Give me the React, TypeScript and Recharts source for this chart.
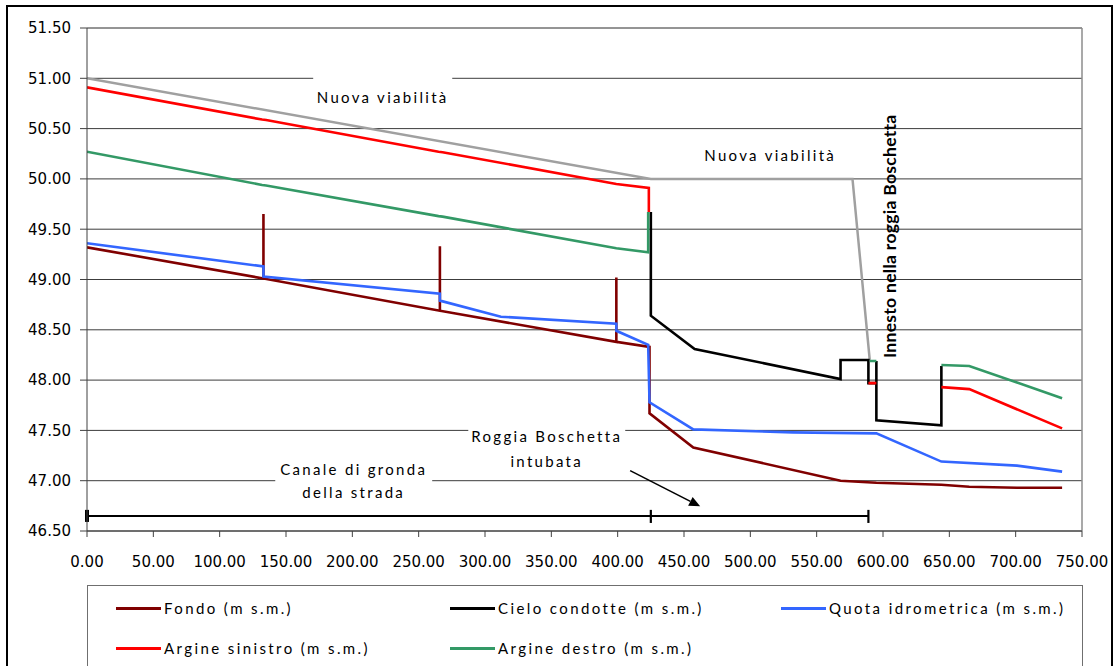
import React from "react";
import {
  LineChart,
  Line,
  XAxis,
  YAxis,
  CartesianGrid,
  ReferenceArea,
  ReferenceLine,
} from "recharts";

type Pt = { x: number; y: number | null };

// Axis ticks
const xTicks = [0, 50, 100, 150, 200, 250, 300, 350, 400, 450, 500, 550, 600, 650, 700, 750];
const yTicks = [46.5, 47, 47.5, 48, 48.5, 49, 49.5, 50, 50.5, 51, 51.5];

// Profile along the channel: progressive distance (m) vs elevation (m s.m.)
const fondo: Pt[] = [
  { x: 0, y: 49.32 },
  { x: 133, y: 49.01 },
  { x: 133, y: 49.65 },
  { x: 133, y: 49.01 },
  { x: 266, y: 48.69 },
  { x: 266, y: 49.33 },
  { x: 266, y: 48.69 },
  { x: 399, y: 48.38 },
  { x: 399, y: 49.02 },
  { x: 399, y: 48.38 },
  { x: 424, y: 48.33 },
  { x: 424, y: 47.67 },
  { x: 457, y: 47.33 },
  { x: 568, y: 47.0 },
  { x: 595, y: 46.98 },
  { x: 644, y: 46.96 },
  { x: 665, y: 46.94 },
  { x: 701, y: 46.93 },
  { x: 735, y: 46.93 },
];

const cieloCondotte: Pt[] = [
  { x: 425, y: 49.67 },
  { x: 425, y: 48.64 },
  { x: 458, y: 48.31 },
  { x: 568, y: 48.01 },
  { x: 568, y: 48.2 },
  { x: 589, y: 48.2 },
  { x: 589, y: 47.97 },
  { x: 595, y: 47.97 },
  { x: 595, y: 48.19 },
  { x: 595, y: 47.6 },
  { x: 644, y: 47.55 },
  { x: 644, y: 48.14 },
];

const quotaIdrometrica: Pt[] = [
  { x: 0, y: 49.36 },
  { x: 133, y: 49.13 },
  { x: 133, y: 49.03 },
  { x: 266, y: 48.86 },
  { x: 266, y: 48.79 },
  { x: 312, y: 48.63 },
  { x: 399, y: 48.56 },
  { x: 399, y: 48.49 },
  { x: 423, y: 48.35 },
  { x: 424, y: 47.78 },
  { x: 457, y: 47.51 },
  { x: 532, y: 47.48 },
  { x: 595, y: 47.47 },
  { x: 644, y: 47.19 },
  { x: 701, y: 47.15 },
  { x: 735, y: 47.09 },
];

const argineSinistro: Pt[] = [
  { x: 0, y: 50.91 },
  { x: 132, y: 50.59 },
  { x: 135, y: 50.585 },
  { x: 265, y: 50.27 },
  { x: 268, y: 50.265 },
  { x: 399, y: 49.95 },
  { x: 423.5, y: 49.91 },
  { x: 423.5, y: 49.67 },
  { x: 500, y: null },
  { x: 589, y: 47.97 },
  { x: 595, y: 47.97 },
  { x: 620, y: null },
  { x: 644, y: 47.93 },
  { x: 665, y: 47.91 },
  { x: 735, y: 47.52 },
];

const argineDestro: Pt[] = [
  { x: 0, y: 50.27 },
  { x: 132, y: 49.94 },
  { x: 135, y: 49.935 },
  { x: 265, y: 49.63 },
  { x: 268, y: 49.625 },
  { x: 399, y: 49.31 },
  { x: 423, y: 49.27 },
  { x: 423, y: 49.67 },
  { x: 500, y: null },
  { x: 590, y: 48.19 },
  { x: 595, y: 48.19 },
  { x: 620, y: null },
  { x: 644, y: 48.15 },
  { x: 665, y: 48.14 },
  { x: 735, y: 47.82 },
];

// New road level
const nuovaViabilita: Pt[] = [
  { x: 0, y: 51.0 },
  { x: 425, y: 50.0 },
  { x: 577, y: 50.0 },
  { x: 590, y: 48.2 },
];

const SERIES = [
  { name: "Fondo (m s.m.)", data: fondo, color: "#800000" },
  { name: "Cielo condotte (m s.m.)", data: cieloCondotte, color: "#000000" },
  { name: "Quota idrometrica (m s.m.)", data: quotaIdrometrica, color: "#3366FF" },
  { name: "Argine sinistro (m s.m.)", data: argineSinistro, color: "#FF0000" },
  { name: "Argine destro (m s.m.)", data: argineDestro, color: "#339966" },
];

const TEXT_FONT = "Lato, 'Open Sans', sans-serif";
const TICK_FONT = "'DejaVu Sans', Verdana, sans-serif";

type AnnProps = {
  viewBox?: { x: number; y: number; width: number; height: number };
  lines: string[];
  dy?: number;
  gap?: number;
};

function AnnotationText({ viewBox, lines, dy = 0, gap = 24 }: AnnProps) {
  if (!viewBox) return null;
  const cx = viewBox.x + viewBox.width / 2;
  const cy = viewBox.y + viewBox.height / 2 + dy;
  const n = lines.length;
  return (
    <text
      x={cx}
      textAnchor="middle"
      fontFamily={TEXT_FONT}
      fontSize={15}
      letterSpacing={2.3}
      fill="#000"
    >
      {lines.map((l, i) => (
        <tspan key={i} x={cx} y={cy + (i - (n - 1) / 2) * gap} dy="0.35em">
          {l}
        </tspan>
      ))}
    </text>
  );
}

function RotatedText({ viewBox, text }: { viewBox?: any; text: string }) {
  if (!viewBox) return null;
  const cx = viewBox.x + viewBox.width / 2;
  const cy = viewBox.y + viewBox.height / 2;
  return (
    <text
      x={cx}
      y={cy}
      dy="0.35em"
      textAnchor="middle"
      transform={`rotate(-90 ${cx} ${cy})`}
      fontFamily={TEXT_FONT}
      fontWeight={700}
      fontSize={17.5}
      letterSpacing={0.3}
      fill="#000"
    >
      {text}
    </text>
  );
}

function ArrowShape(p: any) {
  const { x1, y1, x2, y2 } = p;
  const ang = Math.atan2(y2 - y1, x2 - x1);
  const L = 11;
  const W = 5;
  const bx = x2 - L * Math.cos(ang);
  const by = y2 - L * Math.sin(ang);
  const px = -Math.sin(ang) * W;
  const py = Math.cos(ang) * W;
  return (
    <g>
      <line x1={x1} y1={y1} x2={bx} y2={by} stroke="#000" strokeWidth={1.6} />
      <polygon
        points={`${x2},${y2} ${bx + px},${by + py} ${bx - px},${by - py}`}
        fill="#000"
      />
    </g>
  );
}

function LegendBox() {
  const cols = [28, 362, 693];
  const rows = [22, 62];
  return (
    <div
      style={{
        position: "absolute",
        left: 87,
        top: 585,
        width: 996,
        height: 120,
        boxSizing: "border-box",
        border: "1.5px solid #6f6f6f",
        background: "#fff",
      }}
    >
      {SERIES.map((s, i) => (
        <div
          key={s.name}
          style={{
            position: "absolute",
            left: cols[i % 3],
            top: rows[Math.floor(i / 3)] - 11,
            height: 22,
            display: "flex",
            alignItems: "center",
            whiteSpace: "nowrap",
          }}
        >
          <span
            style={{ display: "inline-block", width: 45, height: 3, background: s.color }}
          />
          <span
            style={{
              marginLeft: 3,
              fontFamily: TEXT_FONT,
              fontSize: 15,
              letterSpacing: 2.4,
              color: "#000",
            }}
          >
            {s.name}
          </span>
        </div>
      ))}
    </div>
  );
}

export default function App() {
  const fmt = (v: number) => v.toFixed(2);
  return (
    <div
      style={{
        position: "absolute",
        left: 0,
        top: 0,
        width: 1120,
        height: 666,
        background: "#fff",
        overflow: "hidden",
      }}
    >
      <LineChart
        width={1120}
        height={666}
        margin={{ top: 28, right: 38, bottom: 95, left: 0 }}
      >
        <CartesianGrid horizontal vertical={false} stroke="#3c3c3c" strokeWidth={1} />
        <XAxis
          dataKey="x"
          type="number"
          domain={[0, 750]}
          ticks={xTicks}
          tickFormatter={fmt}
          height={40}
          tickSize={6}
          tickMargin={19}
          stroke="#404040"
          tick={{ fill: "#000", fontSize: 15, fontFamily: TICK_FONT }}
          allowDataOverflow
        />
        <YAxis
          type="number"
          domain={[46.5, 51.5]}
          ticks={yTicks}
          tickFormatter={fmt}
          width={87}
          tickSize={7}
          tickMargin={9}
          stroke="#404040"
          tick={{ fill: "#000", fontSize: 15, fontFamily: TICK_FONT }}
          allowDataOverflow
        />
        <ReferenceLine y={51.5} stroke="#8c8c8c" strokeWidth={1} />
        <ReferenceLine x={750} stroke="#8c8c8c" strokeWidth={1.5} />

        {/* white label boxes that interrupt the grid */}
        <ReferenceArea
          x1={170.5}
          x2={275.3}
          y1={50.61}
          y2={51.03}
          fill="#fff"
          fillOpacity={1}
          stroke="none"
          label={(p: any) => (
            <AnnotationText viewBox={p.viewBox} lines={["Nuova viabilità"]} dy={1.5} />
          )}
        />
        <ReferenceArea
          x1={480}
          x2={550}
          y1={50.1}
          y2={50.37}
          fill="#fff"
          fillOpacity={0}
          stroke="none"
          label={(p: any) => (
            <AnnotationText viewBox={p.viewBox} lines={["Nuova viabilità"]} />
          )}
        />
        <ReferenceArea
          x1={141.9}
          x2={260.2}
          y1={46.73}
          y2={47.27}
          fill="#fff"
          fillOpacity={1}
          stroke="none"
          label={(p: any) => (
            <AnnotationText
              viewBox={p.viewBox}
              lines={["Canale di gronda", "della strada"]}
              dy={1}
              gap={23}
            />
          )}
        />
        <ReferenceArea
          x1={287.4}
          x2={405.7}
          y1={47.05}
          y2={47.58}
          fill="#fff"
          fillOpacity={1}
          stroke="none"
          label={(p: any) => (
            <AnnotationText
              viewBox={p.viewBox}
              lines={["Roggia Boschetta", "intubata"]}
              gap={25}
            />
          )}
        />
        <ReferenceArea
          x1={600}
          x2={611}
          y1={48.3}
          y2={50.56}
          fill="#fff"
          fillOpacity={0}
          stroke="none"
          label={(p: any) => (
            <RotatedText viewBox={p.viewBox} text="Innesto nella roggia Boschetta" />
          )}
        />

        {/* extent of the two reaches */}
        <ReferenceLine
          segment={[
            { x: 0, y: 46.65 },
            { x: 589, y: 46.65 },
          ]}
          stroke="#000"
          strokeWidth={2}
        />
        <ReferenceLine
          segment={[
            { x: 0, y: 46.59 },
            { x: 0, y: 46.71 },
          ]}
          stroke="#000"
          strokeWidth={4}
        />
        <ReferenceLine
          segment={[
            { x: 425, y: 46.58 },
            { x: 425, y: 46.71 },
          ]}
          stroke="#000"
          strokeWidth={2.2}
        />
        <ReferenceLine
          segment={[
            { x: 589, y: 46.58 },
            { x: 589, y: 46.71 },
          ]}
          stroke="#000"
          strokeWidth={2.2}
        />
        <ReferenceLine
          segment={[
            { x: 409.4, y: 47.1 },
            { x: 462.2, y: 46.745 },
          ]}
          shape={ArrowShape}
        />

        <Line
          data={nuovaViabilita}
          dataKey="y"
          stroke="#a0a0a0"
          strokeWidth={2.5}
          dot={false}
          activeDot={false}
          isAnimationActive={false}
          strokeLinejoin="miter"
        />
        {SERIES.map((s) => (
          <Line
            key={s.name}
            name={s.name}
            data={s.data}
            dataKey="y"
            stroke={s.color}
            strokeWidth={2.6}
            dot={false}
            activeDot={false}
            isAnimationActive={false}
            connectNulls={false}
          />
        ))}
      </LineChart>
      <LegendBox />
      <div
        style={{
          position: "absolute",
          left: 6,
          top: 5,
          width: 1107,
          height: 720,
          boxSizing: "border-box",
          border: "2px solid #000",
          pointerEvents: "none",
        }}
      />
    </div>
  );
}
